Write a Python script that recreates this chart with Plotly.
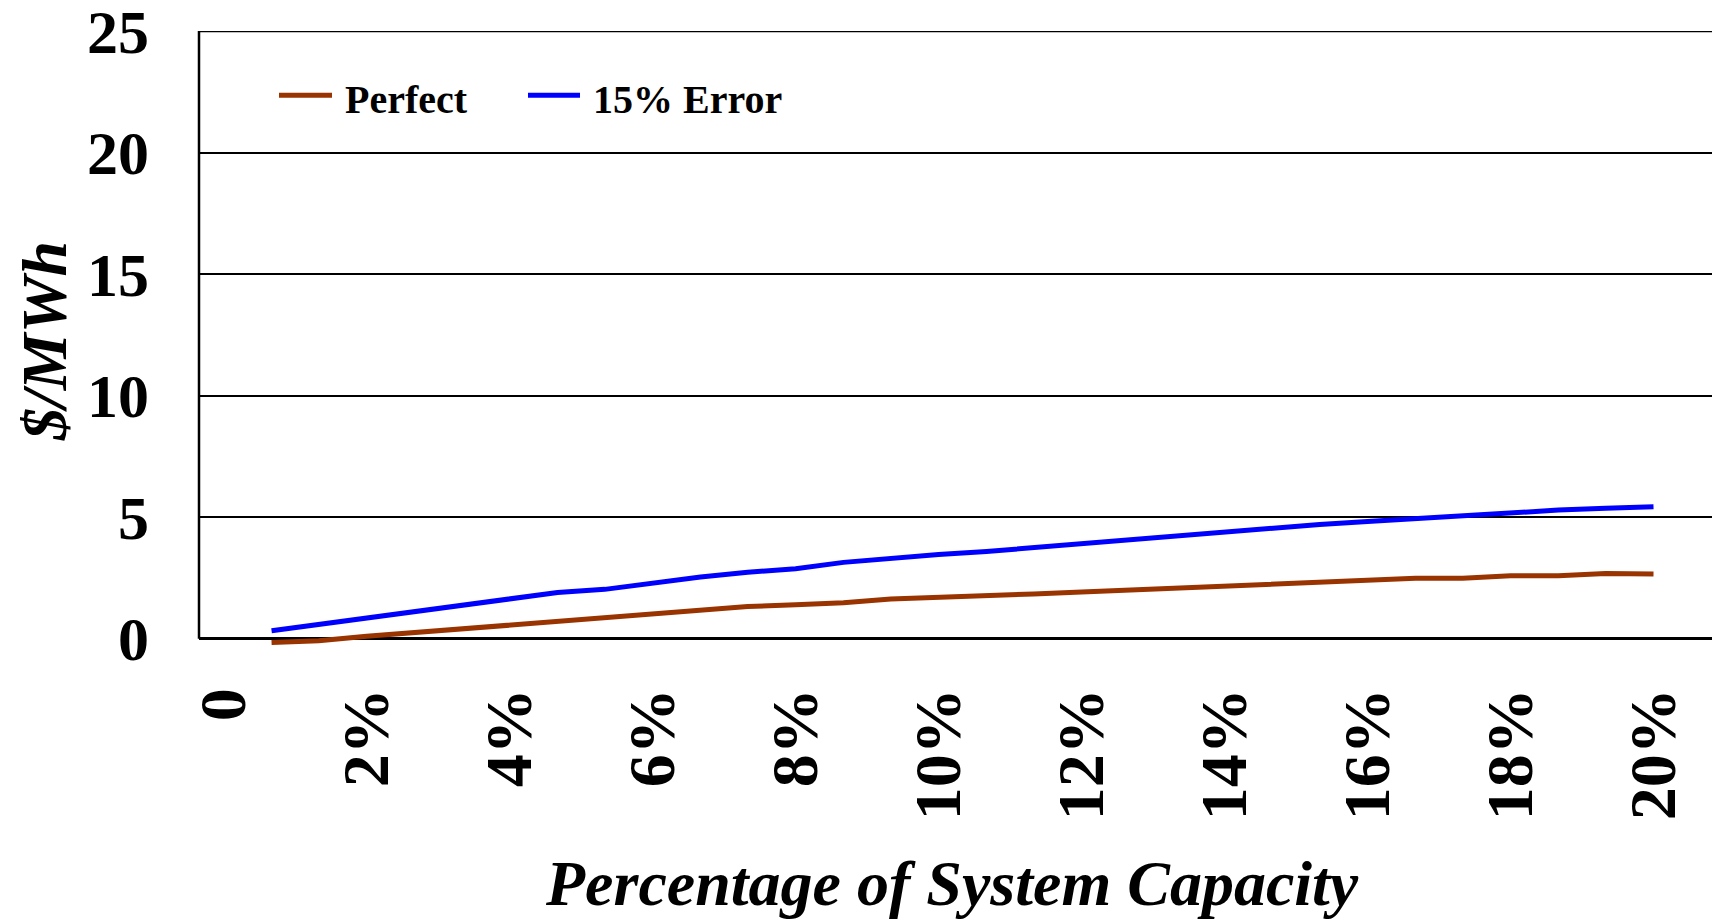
import plotly.graph_objects as go

# Data (x in % of system capacity)
x_pct = [0.67, 1.33, 2.0, 2.67, 3.33, 4.0, 4.67, 5.33, 6.0, 6.67,
         7.33, 8.0, 8.67, 9.33, 10.0, 10.67, 11.33, 12.0, 12.67, 13.33,
         14.0, 14.67, 15.33, 16.0, 16.67, 17.33, 18.0, 18.67, 19.33, 20.0]
perfect = [-0.16, -0.08, 0.10, 0.25, 0.38, 0.53, 0.68, 0.84, 1.01, 1.15,
           1.32, 1.40, 1.48, 1.63, 1.69, 1.74, 1.84, 1.92, 2.00, 2.08,
           2.18, 2.26, 2.36, 2.42, 2.49, 2.49, 2.59, 2.59, 2.68, 2.66]
error15 = [0.33, 0.59, 0.85, 1.12, 1.38, 1.64, 1.90, 2.03, 2.29, 2.54,
           2.73, 2.88, 3.14, 3.32, 3.46, 3.59, 3.75, 3.90, 4.07, 4.25,
           4.41, 4.55, 4.70, 4.82, 4.95, 5.06, 5.16, 5.29, 5.37, 5.43]
series_names = ["Perfect", "15% Error"]
series_colors = ["#993300", "#0000FF"]
x_tickvals = [0, 2, 4, 6, 8, 10, 12, 14, 16, 18, 20]
x_ticktext = ["0", "2%", "4%", "6%", "8%", "10%", "12%", "14%", "16%", "18%", "20%"]
y_tickvals = [0, 5, 10, 15, 20, 25]

FONT = "Liberation Serif, Times New Roman, serif"

fig = go.Figure()
for name, ys, col in zip(series_names, [perfect, error15], series_colors):
    fig.add_trace(go.Scatter(x=x_pct, y=ys, mode="lines", name=name,
                             line=dict(color=col, width=5)))

# page body has an 8px margin, so the figure is sized to fit the window
fig.update_layout(
    width=1712, height=916,
    margin=dict(l=191, r=0, t=23, b=278, autoexpand=False),
    paper_bgcolor="white", plot_bgcolor="white",
    showlegend=False,
)
fig.update_xaxes(range=[-0.345, 20.93], tickmode="array", tickvals=x_tickvals,
                 ticktext=x_ticktext, tickangle=-90, showgrid=False, zeroline=False,
                 showline=False, ticks="", automargin=False, ticklabeloverflow="allow",
                 tickfont=dict(family=FONT, size=66, color="black", weight="bold"),
                 ticklabelstandoff=28)
fig.update_yaxes(range=[-0.3, 25.0], tickmode="array", tickvals=y_tickvals,
                 showgrid=True, gridcolor="black", gridwidth=1.5,
                 zeroline=True, zerolinecolor="black", zerolinewidth=2.5,
                 showline=False, ticks="", automargin=False, ticklabeloverflow="allow",
                 tickfont=dict(family=FONT, size=62, color="black", weight="bold"),
                 ticklabelstandoff=49)

# plot frame: left border and top border
fig.add_shape(type="line", xref="paper", yref="y", x0=0, x1=0, y0=0, y1=25,
              line=dict(color="black", width=2.5))
fig.add_shape(type="line", xref="paper", yref="y", x0=0, x1=1, y0=25, y1=25,
              line=dict(color="black", width=2.5))

# window-pixel -> paper coordinates
W = 1521.0
H = 615.6
def px2paper_x(px):
    return (px - 199) / W
def px2paper_y(py):
    return (646.3 - py) / H

# legend (drawn in the top-left of the plot area)
leg_items = [(279, 332, 343), (528, 580, 591)]
for (s0, s1, tx), name, col in zip(leg_items, series_names, series_colors):
    fig.add_shape(type="line", xref="paper", yref="paper",
                  x0=px2paper_x(s0), x1=px2paper_x(s1),
                  y0=px2paper_y(95), y1=px2paper_y(95),
                  line=dict(color=col, width=5))
    fig.add_annotation(text="<b>" + name + "</b>", xref="paper", yref="paper",
                       x=px2paper_x(tx), y=px2paper_y(99), showarrow=False,
                       xanchor="left", yanchor="middle",
                       font=dict(family=FONT, size=40, color="black"))

fig.add_annotation(text="<b><i>$/MWh</i></b>", xref="paper", yref="paper",
                   x=px2paper_x(45), y=px2paper_y(341), textangle=-90, showarrow=False,
                   font=dict(family=FONT, size=64, color="black"),
                   xanchor="center", yanchor="middle")
fig.add_annotation(text="<b><i>Percentage of System Capacity</i></b>", xref="paper", yref="paper",
                   x=px2paper_x(952), y=px2paper_y(922), showarrow=False,
                   font=dict(family=FONT, size=64, color="black"),
                   xanchor="center", yanchor="bottom")

fig.write_html("out.html")
